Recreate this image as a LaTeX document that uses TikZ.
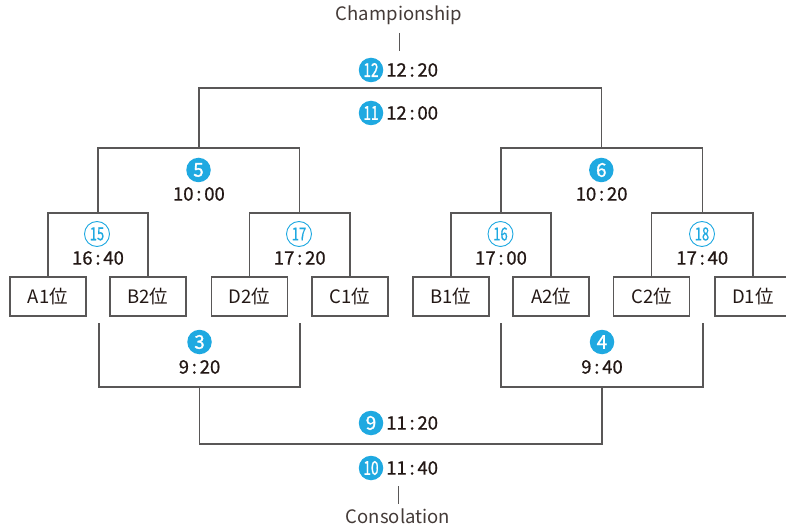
\documentclass[tikz,border=0pt]{standalone}
\usepackage{fontspec}
\usepackage{graphicx}
\setmainfont{Noto Sans CJK JP}
\newfontfamily\medfont[FakeBold=0.7]{Noto Sans CJK JP}
\newfontfamily\numfont[FakeBold=1.2]{Noto Sans CJK JP}
\usetikzlibrary{calc}
\definecolor{lnc}{HTML}{595757}
\definecolor{tx}{HTML}{231815}
\definecolor{cy}{HTML}{1FA9E1}
\tikzset{
  ln/.style={draw=lnc, line width=1.3pt},
  thinln/.style={draw=lnc, line width=1pt},
  team/.style={draw=lnc, line width=1.3pt, minimum width=76pt, minimum height=39pt, inner sep=0pt, text=tx, font=\fontsize{18.5}{20}\selectfont},
  time/.style={inner sep=0pt, text=tx, font=\medfont\fontsize{18.5}{20}\selectfont},
  fnum/.style={circle, fill=cy, text=white, minimum size=24.5pt, inner sep=0pt, font=\numfont\fontsize{19}{19}\selectfont},
  onum/.style={circle, draw=cy, line width=0.9pt, text=cy, minimum size=25pt, inner sep=0pt, font=\medfont\fontsize{18}{18}\selectfont},
  lab/.style={inner sep=0pt, text=tx!85, font=\fontsize{18.5}{20}\selectfont}
}
\newcommand{\twod}[1]{\scalebox{0.72}[1]{#1}}
\newcommand{\tm}[2]{#1\kern2.8pt:\kern2.8pt#2}
\begin{document}
\begin{tikzpicture}[x=1pt,y=-1pt]
\clip (0,0) rectangle (786,526);
\fill[white] (0,0) rectangle (786,526);
% team boxes
\node[team] (A1) at (48,296.5) {A1位};
\node[team] (B2) at (148,296.5) {B2位};
\node[team] (D2) at (249.5,296.5) {D2位};
\node[team] (C1) at (350,296.5) {C1位};
\node[team] (B1) at (451,296.5) {B1位};
\node[team] (A2) at (551,296.5) {A2位};
\node[team] (C2) at (651.5,296.5) {C2位};
\node[team] (D1) at (753,296.5) {D1位};
% bracket coordinates
\coordinate (m15) at (98,213);
\coordinate (m17) at (299.75,213);
\coordinate (m16) at (501,213);
\coordinate (m18) at (702.25,213);
\coordinate (m5) at (198.9,148);
\coordinate (m6) at (601.6,148);
\coordinate (m11) at (400,88);
% first round brackets
\draw[ln] (A1.north) |- (m15) -| (B2.north);
\draw[ln] (D2.north) |- (m17) -| (C1.north);
\draw[ln] (B1.north) |- (m16) -| (A2.north);
\draw[ln] (C2.north) |- (m18) -| (D1.north);
% second round
\draw[ln] (m15) |- (m5) -| (m17);
\draw[ln] (m16) |- (m6) -| (m18);
% final
\draw[ln] (m5) |- (m11) -| (m6);
% consolation brackets
\coordinate (l3a) at (99,323);
\coordinate (l3b) at (300,323);
\coordinate (m3) at (199.5,387);
\coordinate (l4a) at (501,323);
\coordinate (l4b) at (703,323);
\coordinate (m4) at (602,387);
\coordinate (m9) at (400,444);
\draw[ln] (l3a) |- (m3) -| (l3b);
\draw[ln] (l4a) |- (m4) -| (l4b);
\draw[ln] (m3) |- (m9) -| (m4);
% round labels
\node[onum] (c15) at (97,234) {\twod{15}};
\node[time] (t15) at (98,258) {\tm{16}{40}};
\node[onum] (c17) at (299,234) {\twod{17}};
\node[time] (t17) at (299.75,258) {\tm{17}{20}};
\node[onum] (c16) at (500.5,234) {\twod{16}};
\node[time] (t16) at (501,258) {\tm{17}{00}};
\node[onum] (c18) at (702,234) {\twod{18}};
\node[time] (t18) at (702.25,258) {\tm{17}{40}};
\node[fnum] (c5) at (198.5,170) {5};
\node[time] (t5) at (198.9,194) {\tm{10}{00}};
\node[fnum] (c6) at (601.3,170) {6};
\node[time] (t6) at (601.6,194) {\tm{10}{20}};
\node[fnum] (c3) at (199.5,342) {3};
\node[time] (t3) at (199.5,367) {\tm{9}{20}};
\node[fnum] (c4) at (602,342) {4};
\node[time] (t4) at (602,367) {\tm{9}{40}};
% centre column
\node[lab] (champ) at (399,15) {Championship};
\coordinate (ch1) at (399,33);
\coordinate (ch2) at (399,51);
\draw[thinln] (ch1) -- (ch2);
\node[fnum] (c12) at (371,70) {\twod{12}};
\node[time, anchor=west] (t12) at (386,70) {\tm{12}{20}};
\node[fnum] (c11) at (371,113) {\twod{11}};
\node[time, anchor=west] (t11) at (386,113) {\tm{12}{00}};
\node[fnum] (c9) at (371,423) {9};
\node[time, anchor=west] (t9) at (386,423) {\tm{11}{20}};
\node[fnum] (c10) at (371,468) {\twod{10}};
\node[time, anchor=west] (t10) at (386,468) {\tm{11}{40}};
\coordinate (co1) at (398,486);
\coordinate (co2) at (398,504);
\draw[thinln] (co1) -- (co2);
\node[lab] (conso) at (398,516) {Consolation};
\end{tikzpicture}
\end{document}
